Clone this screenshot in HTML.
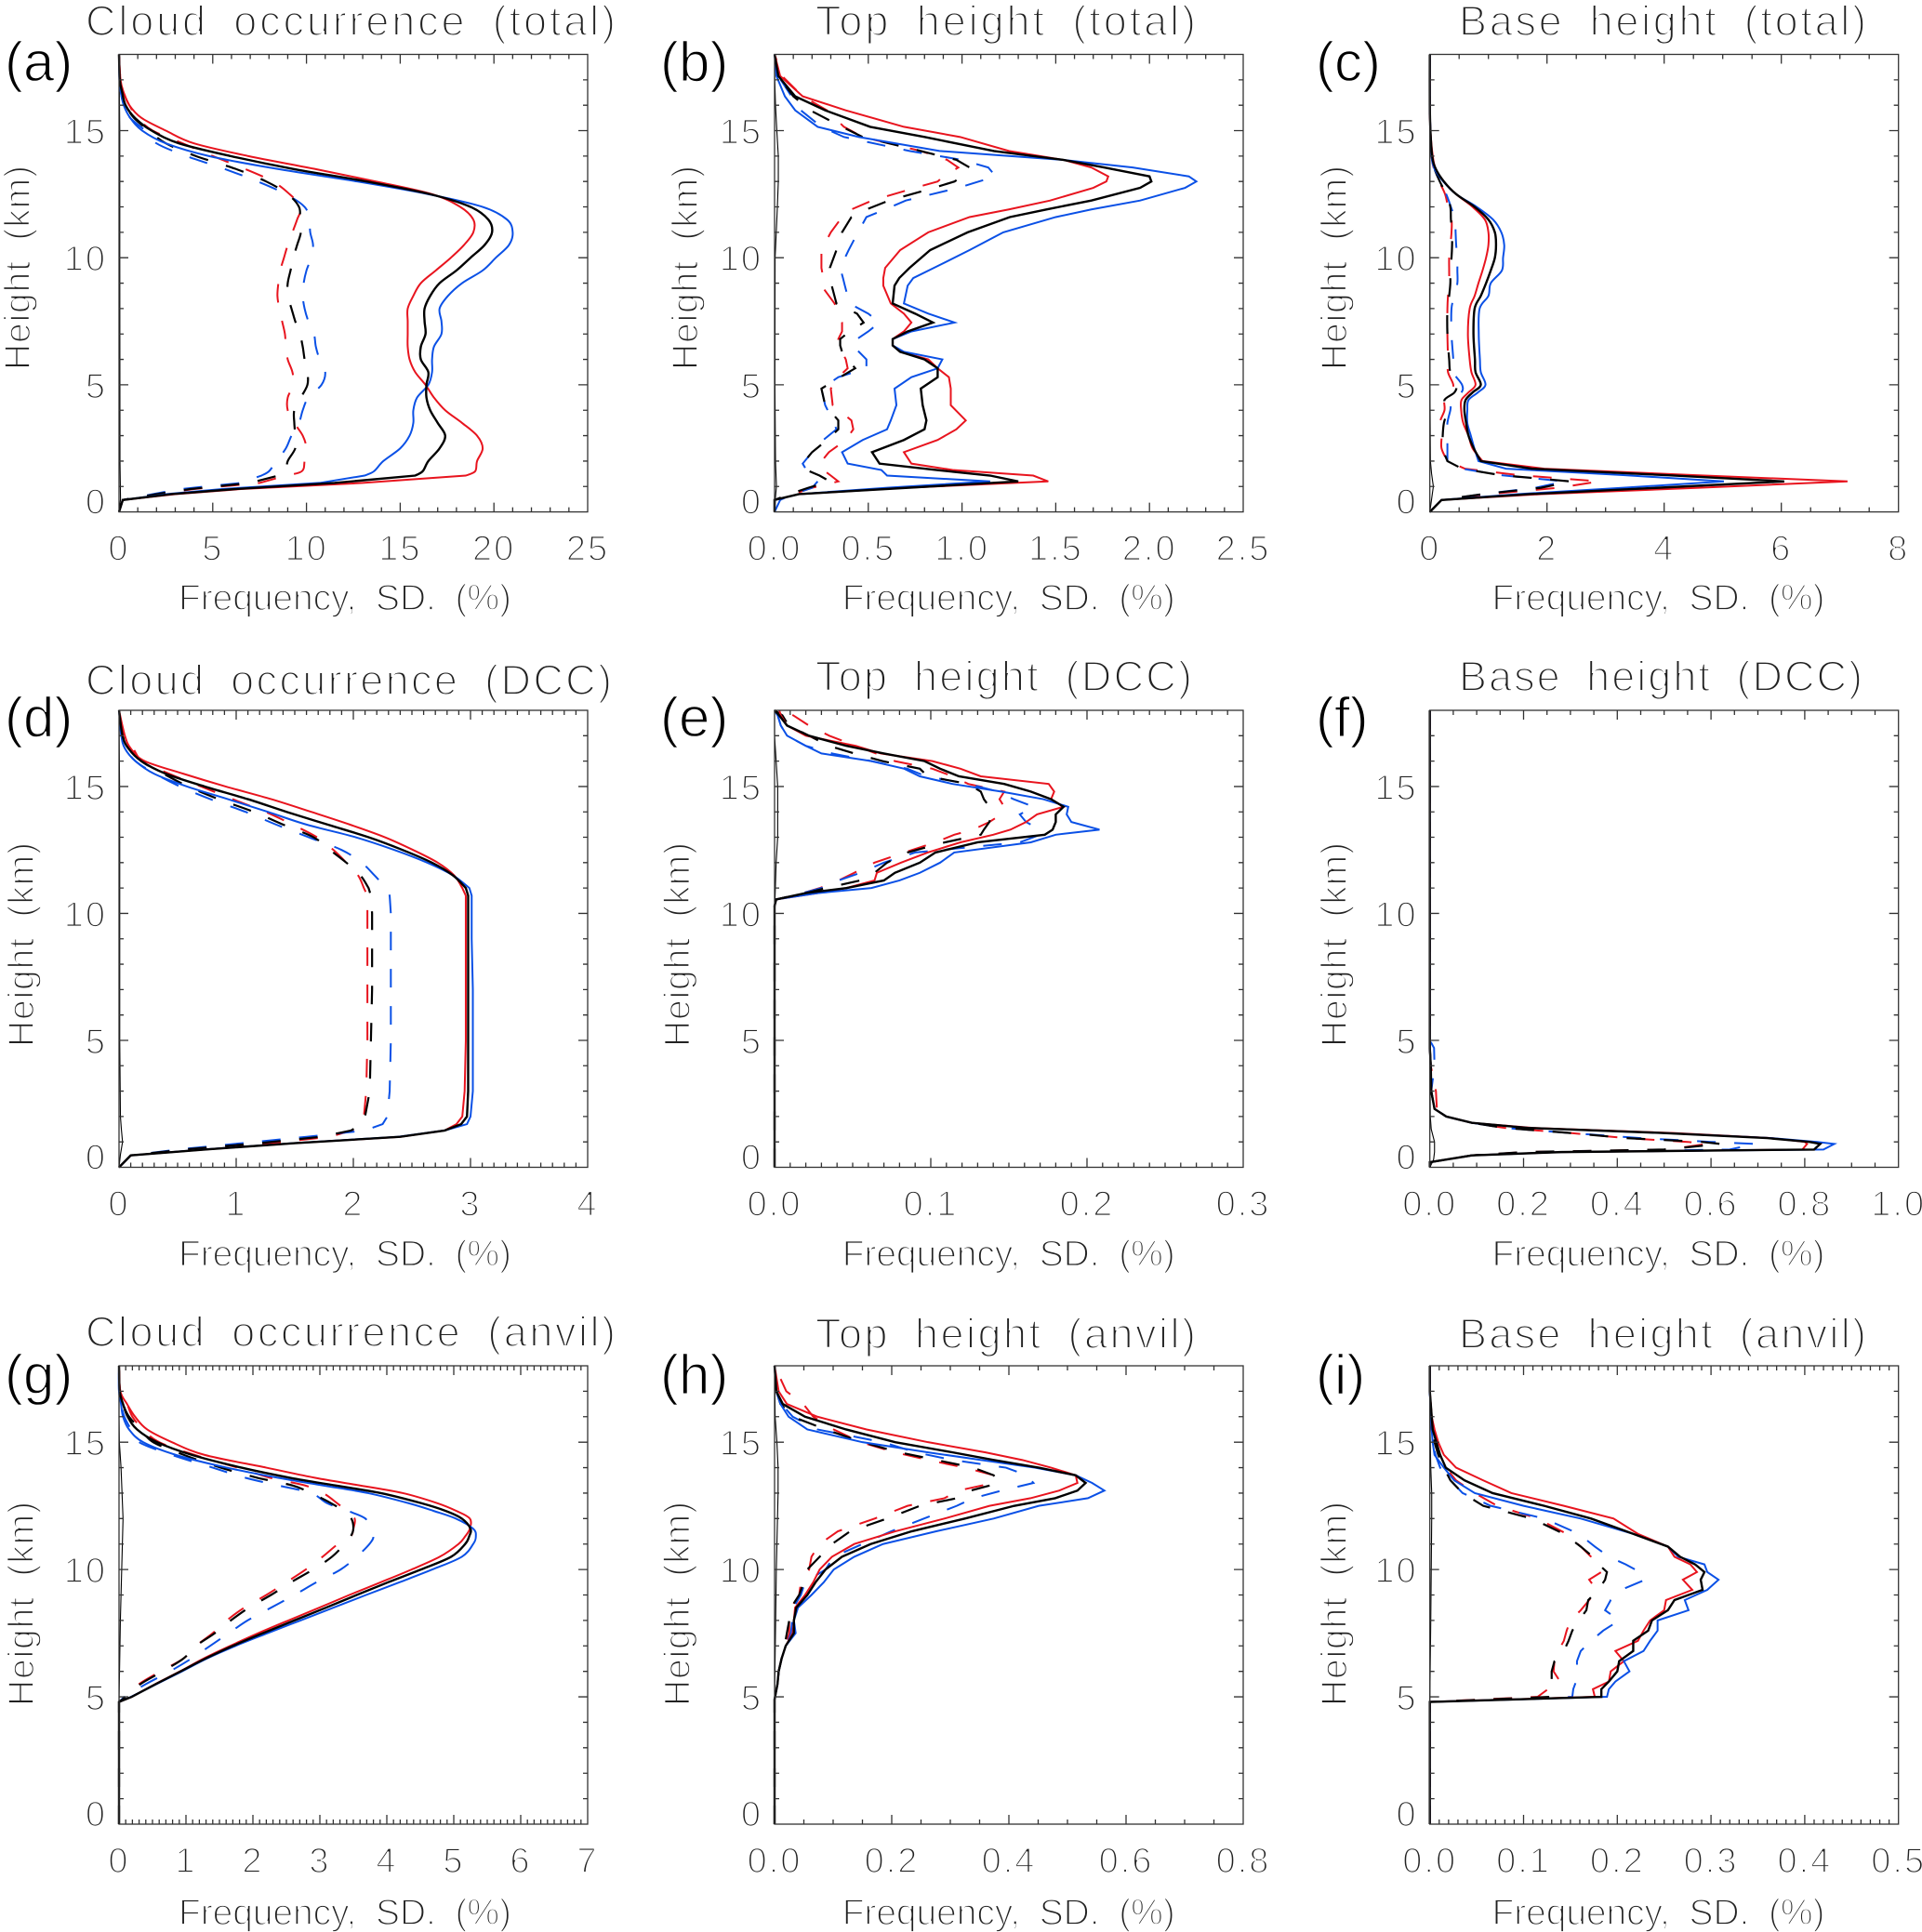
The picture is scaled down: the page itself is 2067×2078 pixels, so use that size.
<!DOCTYPE html>
<html lang="en">
<head>
<meta charset="utf-8">
<title>Cloud occurrence and height profiles</title>
<style>
html,body{margin:0;padding:0;background:#fff;}
svg{display:block;}
text{font-family:"Liberation Sans",sans-serif;stroke:#fff;}
.tick{font-size:38px;letter-spacing:2px;fill:#222;stroke-width:1.8px;}
.title{font-size:45px;word-spacing:12px;fill:#222;stroke-width:2px;}
.axis{font-size:39px;word-spacing:10px;fill:#222;stroke-width:1.7px;}
.letter{font-size:60px;fill:#000;stroke-width:1.4px;}
</style>
</head>
<body>
<svg id="figure" xmlns="http://www.w3.org/2000/svg" width="2067" height="2078" viewBox="0 0 2067 2078"></svg>
<script>
// Panel (a)
const a_heights = [0,.47,.7,.9,1.14,1.43,1.6,2,2.5,3,3.5,4,4.5,5,5.5,6,6.5,7,7.5,8,8.5,9,9.5,10,10.5,11,11.5,12,12.5,13,13.5,14,14.5,15,15.5,16,16.5,17,18];
const a_solidBlue = [0,.2,2.5,5.5,10.7,13.1,13.6,14.1,15,15.5,15.7,15.7,15.9,16.5,16.7,16.7,16.8,17.2,17.2,17.1,17.55,18.3,19.4,20.1,20.8,21,20.7,19.4,16.5,12.7,8.4,4.8,2.5,1.24,.6,.25,.1,.02,0];
const a_solidBlack = [0,.2,2.8,6.2,11.5,15.8,16.2,16.5,17.1,17.4,17,16.6,16.4,16.4,16.5,16.1,16.1,16.35,16.3,16.3,16.6,17.1,18,18.75,19.5,19.9,19.7,18.75,16.6,13.2,9.25,5.95,3.2,1.74,.85,.35,.17,.04,0];
const a_solidRed = [0,.2,3,6.5,13,18.5,19,19.1,19.4,19.1,18.3,17.4,16.8,16.35,15.8,15.5,15.4,15.4,15.4,15.4,15.7,16.1,16.9,17.7,18.4,18.9,18.9,18.2,16.7,13.7,10.4,6.9,4,2.5,1.2,.55,.25,.08,0];
const a_dashBlue = [0,.2,1.8,3.3,6.5,7.6,8,8.4,8.9,9.2,9.6,9.8,10.1,10.8,11,10.7,10.5,10.4,10.1,9.9,9.8,9.85,10,10.25,10.35,10.2,10.15,9.9,8.9,7.4,5.6,3.6,2,1.4,.6,.25,.1,.02,0];
const a_dashBlack = [0,.2,2,3.8,7,8.5,8.9,9,9.4,9.4,9.35,9.35,9.7,10.05,10.05,9.9,9.8,9.65,9.4,9.2,9,9,9.15,9.3,9.5,9.7,9.65,9.6,9,7.85,6.2,4.1,2.5,1.6,.8,.35,.17,.04,0];
const a_dashRed = [0,.2,2,4,7.5,8.9,9.75,9.9,10,9.8,9.35,9,9,9.3,9.25,9,8.9,8.85,8.7,8.55,8.45,8.5,8.6,8.8,9,9.25,9.5,9.7,9.1,8.2,6.7,5,3.4,1.8,1,.55,.25,.08,0];
const a_thinHeights = [0,.5,2,10,15,18];
const a_thinValues = [0,.08,.05,.04,.04,0];
const a_xLabels = ["0","5","10","15","20","25"];

// Panel (b)
const b_heights = [0,.47,.7,.95,1.2,1.43,1.65,1.9,2.35,2.83,3.25,3.6,4.2,4.85,5.3,5.65,6,6.3,6.55,6.8,7.1,7.45,7.8,8.2,8.9,9.2,9.6,10.3,11,11.6,11.9,12.25,12.75,13,13.2,13.55,13.85,14.2,14.75,15.15,15.8,16.35,17.15,18];
const b_solidBlue = [0,0,.13,.6,1.15,.6,.57,.39,.36,.47,.6,.62,.65,.64,.73,.87,.895,.69,.63,.63,.73,.96,.82,.69,.71,.74,.85,1.04,1.22,1.5,1.69,1.95,2.19,2.25,2.21,1.91,1.54,.88,.45,.23,.11,.055,.01,0];
const b_solidBlack = [0,0,.13,.71,1.3,1.15,.86,.56,.52,.69,.8,.81,.79,.78,.87,.87,.8,.67,.63,.63,.71,.845,.75,.63,.64,.665,.72,.83,1.03,1.255,1.45,1.69,1.95,2.01,2,1.76,1.54,1.17,.8,.51,.27,.11,.02,0];
const b_solidRed = [0,0,.13,.7,1.46,1.38,.95,.73,.69,.87,.97,1.02,.94,.94,.93,.87,.82,.67,.63,.63,.69,.73,.69,.62,.58,.58,.59,.67,.82,1.04,1.25,1.47,1.7,1.77,1.78,1.69,1.54,1.25,.99,.69,.38,.15,.03,0];
const b_dashBlue = [0,.03,.1,.2,.23,.2,.17,.15,.2,.26,.33,.31,.27,.25,.34,.49,.49,.45,.41,.44,.5,.56,.5,.4,.375,.365,.35,.395,.445,.49,.59,.7,.98,1.09,1.18,1.14,1,.72,.37,.25,.14,.09,.02,0];
const b_dashBlack = [0,0,.08,.18,.295,.24,.17,.15,.2,.28,.34,.34,.27,.25,.35,.43,.39,.36,.35,.35,.4,.475,.44,.33,.305,.305,.295,.33,.36,.41,.49,.61,.85,.96,1,1.04,.97,.78,.47,.36,.19,.1,.02,0];
const b_dashRed = [0,0,.1,.2,.34,.3,.26,.24,.29,.38,.42,.41,.31,.3,.34,.39,.38,.36,.34,.34,.36,.36,.34,.32,.25,.26,.25,.25,.3,.36,.41,.52,.75,.87,.9,.98,.92,.78,.47,.37,.28,.15,.04,0];
const b_thinHeights = [0,.6,1,2,5,10,12,13,14,15,16,17,18];
const b_thinValues = [0,.005,.01,.005,.002,.003,.015,.02,.02,.012,.005,.001,0];
const b_xLabels = ["0.0","0.5","1.0","1.5","2.0","2.5"];

// Panel (c)
const c_heights = [0,.47,.7,.95,1.2,1.45,1.7,2,2.5,3,3.5,4,4.4,4.7,5,5.5,6,7,8,8.5,9,9.5,10,10.5,11,11.5,12,12.5,13,13.5,14,15,16,18];
const c_solidBlue = [0,.2,1.5,3.3,5.02,3.3,1.3,.83,.76,.7,.64,.64,.66,.82,.95,.87,.855,.835,.85,1,1.04,1.23,1.25,1.27,1.22,1.08,.8,.45,.23,.08,.03,.01,0,0];
const c_solidBlack = [0,.2,1.7,3.9,6.05,4,1.74,.87,.75,.66,.62,.59,.61,.73,.87,.78,.77,.745,.765,.87,.96,1.04,1.11,1.13,1.11,1,.765,.45,.24,.1,.04,.01,0,0];
const c_solidRed = [0,.2,1.9,4.6,7.13,4.5,1.95,.9,.73,.66,.57,.535,.54,.66,.78,.71,.68,.65,.68,.765,.83,.9,.96,1,1,.94,.73,.45,.24,.1,.05,.01,0,0];
const c_dashBlue = [0,.2,.9,1.8,2.3,1.2,.55,.3,.3,.3,.3,.35,.38,.54,.55,.4,.4,.37,.37,.42,.47,.47,.47,.45,.44,.43,.36,.28,.17,.08,.03,.01,0,0];
const c_dashBlack = [0,.2,.9,1.9,2.4,1.2,.55,.3,.22,.22,.24,.3,.25,.42,.45,.35,.33,.3,.3,.33,.35,.35,.37,.38,.38,.36,.35,.28,.17,.08,.03,.01,0,0];
const c_dashRed = [0,.2,1,2.2,2.89,1.5,.6,.3,.2,.2,.17,.25,.25,.35,.4,.31,.31,.3,.3,.31,.33,.33,.33,.35,.37,.37,.31,.26,.16,.07,.03,.01,0,0];
const c_thinHeights = [0,.5,1,1.5,2,5,18];
const c_thinValues = [0,.03,.06,.03,.01,.002,0];
const c_xLabels = ["0","2","4","6","8"];

// Panel (d)
const d_heights = [0,.47,.7,.95,1.2,1.45,1.7,2,3,5,7,9,10,10.7,11,11.5,12,12.5,13,13.5,14,14.5,15,15.5,16,16.5,17,18];
const d_solidBlue = [0,.1,.72,1.48,2.38,2.78,2.97,3,3.02,3.02,3.02,3.01,3.01,3.01,2.99,2.85,2.63,2.35,2.02,1.6,1.27,.93,.58,.3,.14,.05,.02,0];
const d_solidBlack = [0,.1,.73,1.5,2.4,2.78,2.92,2.97,2.98,2.98,2.98,2.98,2.98,2.98,2.96,2.85,2.67,2.42,2.13,1.78,1.43,1.1,.73,.4,.19,.08,.03,0];
const d_solidRed = [0,.1,.73,1.5,2.4,2.78,2.88,2.93,2.95,2.96,2.96,2.96,2.96,2.96,2.93,2.86,2.72,2.51,2.27,1.97,1.64,1.3,.91,.55,.22,.1,.05,0];
const d_dashBlue = [0,.1,.5,1.05,1.6,2.1,2.25,2.29,2.31,2.32,2.32,2.32,2.32,2.31,2.28,2.18,2.07,1.9,1.62,1.34,1.08,.78,.52,.31,.14,.06,.02,0];
const d_dashBlack = [0,.1,.55,1.2,1.72,1.98,2.07,2.1,2.14,2.15,2.16,2.16,2.16,2.15,2.13,2.06,1.94,1.8,1.66,1.4,1.15,.85,.59,.38,.19,.1,.03,0];
const d_dashRed = [0,.1,.6,1.3,1.8,1.99,2.05,2.09,2.11,2.12,2.12,2.12,2.12,2.12,2.09,2.04,1.94,1.83,1.69,1.48,1.25,.97,.7,.43,.2,.12,.04,0];
const d_thinHeights = [0,.5,1,1.5,2,5,12,15,16,18];
const d_thinValues = [0,.012,.03,.02,.012,.006,.006,.005,.003,0];
const d_xLabels = ["0","1","2","3","4"];

// Panel (e)
const e_heights = [0,10.3,10.55,10.8,11,11.3,11.6,12,12.4,12.8,13.1,13.3,13.6,13.9,14.2,14.5,14.8,15.1,15.4,15.7,16,16.3,16.6,17,17.4,17.8,18];
const e_solidBlue = [0,0,.001,.0275,.062,.08,.093,.106,.115,.164,.18,.208,.19,.187,.188,.172,.145,.114,.093,.083,.062,.03,.02,.008,.004,.002,0];
const e_solidBlack = [0,0,.001,.02,.046,.07,.077,.093,.103,.13,.173,.178,.18,.18,.185,.177,.164,.147,.118,.106,.096,.07,.046,.022,.008,.003,0];
const e_solidRed = [0,0,.001,.0275,.046,.064,.0655,.081,.098,.119,.14,.151,.161,.168,.185,.177,.179,.1755,.132,.119,.101,.068,.052,.02,.008,.004,.003];
const e_dashBlue = [0,0,.001,.018,.03,.041,.055,.07,.09,.157,.17,.17,.161,.157,.166,.153,.143,.124,.097,.085,.062,.037,.02,.008,.004,.002,0];
const e_dashBlack = [0,0,.001,.02,.033,.055,.064,.072,.085,.109,.132,.134,.1375,.139,.1375,.134,.132,.124,.098,.093,.069,.051,.035,.022,.009,.005,0];
const e_dashRed = [0,0,.001,.018,.029,.041,.051,.064,.083,.103,.115,.127,.1375,.145,.147,.144,.147,.124,.114,.101,.077,.065,.052,.035,.022,.012,.005];
const e_thinHeights = [0,10,12,13,14,15,16,17,18];
const e_thinValues = [0,0,.001,.002,.002,.002,.001,0,0];
const e_xLabels = ["0.0","0.1","0.2","0.3"];

// Panel (f)
const f_heights = [0,.2,.47,.6,.7,.92,1,1.15,1.35,1.55,1.75,2,2.3,3,4,4.7,5,18];
const f_solidBlue = [0,0,.09,.28,.84,.863,.826,.73,.5,.21,.09,.035,.01,.003,.002,0,0,0];
const f_solidBlack = [0,0,.09,.28,.82,.833,.81,.72,.5,.21,.09,.035,.01,.003,.002,0,0,0];
const f_solidRed = [0,0,.09,.28,.795,.805,.8,.73,.52,.22,.09,.035,.01,.003,.002,0,0,0];
const f_dashBlue = [0,0,.09,.25,.64,.695,.6,.45,.3,.16,.09,.035,.01,.003,.01,.009,0,0];
const f_dashBlack = [0,0,.09,.2,.5,.62,.58,.42,.3,.16,.09,.035,.01,.003,.002,0,0,0];
const f_dashRed = [0,0,.09,.2,.51,.59,.55,.42,.3,.16,.09,.035,.015,.013,.002,0,0,0];
const f_thinHeights = [0,.3,.6,1,1.5,2,5,18];
const f_thinValues = [0,.008,.01,.01,.003,.001,0,0];
const f_xLabels = ["0.0","0.2","0.4","0.6","0.8","1.0"];

// Panel (g)
const g_heights = [0,4.8,5,5.5,6,6.5,7,7.5,8,8.5,9,9.5,10,10.5,11,11.3,11.6,12,12.3,12.6,13,13.3,13.6,14,14.5,15,15.5,16,16.5,17,18];
const g_solidBlue = [0,0,.18,.56,.94,1.31,1.74,2.22,2.71,3.2,3.69,4.19,4.68,5.12,5.29,5.33,5.29,5.03,4.7,4.33,3.72,3.05,2.38,1.61,.85,.36,.15,.06,.03,0,0];
const g_solidBlack = [0,0,.19,.55,.92,1.29,1.7,2.15,2.62,3.09,3.55,4.02,4.51,4.96,5.17,5.23,5.25,5.12,4.88,4.52,3.91,3.23,2.56,1.83,1.09,.57,.27,.13,.06,.01,0];
const g_solidRed = [0,0,.19,.54,.91,1.26,1.66,2.08,2.53,2.99,3.44,3.91,4.37,4.79,5.07,5.17,5.24,5.24,5.04,4.76,4.24,3.6,2.93,2.2,1.28,.79,.42,.24,.12,.02,0];
const g_dashBlue = [0,0,.08,.4,.76,1.08,1.36,1.64,1.92,2.27,2.62,2.95,3.31,3.55,3.74,3.8,3.74,3.68,3.42,3.11,2.87,2.38,1.89,1.4,.79,.3,.18,.08,.03,0,0];
const g_dashBlack = [0,0,.1,.32,.65,.96,1.15,1.43,1.67,1.94,2.27,2.57,2.9,3.18,3.37,3.46,3.5,3.47,3.35,3.17,2.87,2.59,2.07,1.52,.97,.51,.33,.15,.06,.01,0];
const g_dashRed = [0,0,.1,.3,.62,.96,1.15,1.4,1.61,1.87,2.2,2.5,2.79,3.04,3.27,3.46,3.5,3.52,3.4,3.26,3.05,2.78,2.26,1.77,1.13,.6,.36,.2,.12,.02,0];
const g_thinHeights = [0,4.8,8,10,12,14,15,16,18];
const g_thinValues = [0,0,.02,.04,.06,.03,.005,0,0];
const g_xLabels = ["0","1","2","3","4","5","6","7"];

// Panel (h)
const h_heights = [0,4.9,5.5,6,6.5,7,7.5,8,8.5,9,9.5,10,10.5,11,11.5,12,12.5,12.8,13.1,13.4,13.7,14,14.3,14.6,15,15.5,16,16.5,17,18];
const h_solidBlue = [0,0,.005,.007,.012,.019,.036,.033,.04,.063,.084,.101,.136,.185,.276,.374,.451,.535,.563,.542,.514,.444,.353,.262,.15,.056,.024,.01,.003,0];
const h_solidBlack = [0,0,.005,.007,.012,.019,.033,.033,.037,.056,.07,.087,.115,.164,.234,.325,.409,.479,.517,.531,.514,.451,.374,.304,.206,.122,.052,.014,.003,0];
const h_solidRed = [0,0,.005,.007,.012,.019,.031,.033,.035,.052,.066,.077,.098,.136,.206,.29,.367,.437,.486,.517,.514,.472,.423,.36,.262,.157,.073,.021,.007,0];
const h_dashBlue = [0,0,.005,.007,.012,.02,.028,.03,.032,.045,.052,.087,.101,.15,.199,.255,.311,.339,.388,.442,.43,.395,.304,.241,.185,.073,.031,.012,.003,0];
const h_dashBlack = [0,0,.005,.007,.012,.017,.021,.025,.028,.042,.05,.056,.077,.098,.129,.192,.248,.311,.335,.384,.374,.339,.276,.213,.15,.087,.031,.01,.003,0];
const h_dashRed = [0,0,.005,.007,.012,.019,.025,.025,.028,.042,.045,.059,.063,.077,.108,.171,.227,.29,.314,.374,.374,.325,.262,.206,.147,.101,.066,.049,.02,0];
const h_thinHeights = [0,4.9,10,13,14,15,16,18];
const h_thinValues = [0,0,.003,.006,.006,.004,.001,0];
const h_xLabels = ["0.0","0.2","0.4","0.6","0.8"];

// Panel (i)
const i_heights = [0,4.8,5,5.3,5.6,6,6.4,6.8,7.2,7.6,8,8.4,8.8,9.2,9.6,9.9,10.2,10.5,10.9,11.4,12,12.5,13,13.5,14,14.5,15,15.5,16,17,18];
const i_solidBlue = [0,0,.189,.191,.198,.213,.207,.228,.235,.243,.243,.276,.272,.296,.308,.296,.293,.265,.254,.217,.161,.1,.048,.026,.015,.005,.003,.002,.001,0,0];
const i_solidBlack = [0,0,.183,.183,.191,.2,.202,.217,.217,.233,.237,.254,.261,.291,.289,.293,.283,.267,.254,.217,.172,.122,.067,.037,.017,.011,.007,.003,.002,0,0];
const i_solidRed = [0,0,.176,.174,.191,.193,.207,.198,.222,.228,.235,.25,.252,.28,.27,.285,.278,.261,.254,.222,.196,.143,.087,.057,.028,.015,.009,.005,.002,0,0];
const i_dashBlue = [0,0,.152,.153,.156,.157,.157,.161,.172,.185,.202,.187,.193,.204,.23,.224,.209,.191,.176,.159,.122,.065,.035,.022,.011,.006,.003,.002,.001,0,0];
const i_dashBlack = [0,0,.128,.128,.13,.13,.133,.143,.148,.152,.159,.167,.169,.18,.187,.189,.18,.174,.161,.143,.109,.057,.035,.022,.015,.009,.005,.003,.001,0,0];
const i_dashRed = [0,0,.115,.126,.139,.132,.133,.137,.143,.146,.15,.161,.17,.178,.17,.183,.178,.172,.161,.146,.115,.072,.048,.028,.017,.011,.006,.004,.002,0,0];
const i_thinHeights = [0,4.8,8,12,13,14,16,18];
const i_thinValues = [0,0,.001,.002,.002,.001,0,0];
const i_xLabels = ["0.0","0.1","0.2","0.3","0.4","0.5"];

const yLabels = ["0","5","10","15"];
const heightMax = 18;

const NS = "http://www.w3.org/2000/svg";
const svg = document.getElementById("figure");
const BLUE = "#0a50e6", RED = "#e8141e", BLACK = "#000";

function el(parent, tag, attrs) {
  const node = document.createElementNS(NS, tag);
  for (const k in attrs) node.setAttribute(k, attrs[k]);
  parent.appendChild(node);
  return node;
}

function addText(parent, str, x, y, cls, name, extra) {
  const t = el(parent, "text", Object.assign({x: x, y: y, "class": cls}, extra || {}));
  t.textContent = str;
  
  
  return t;
}

function drawPanel(p) {
  const g = el(svg, "g", {});
  
  

  const W = p.x1 - p.x0, H = p.y1 - p.y0;
  const xMax = parseFloat(p.xLabels[p.xLabels.length - 1]);
  const sx = v => p.x0 + (v / xMax) * W;
  const sy = h => p.y1 - (h / heightMax) * H;

  function pathFor(values, heights, smoothFrom) {
    const pts = values.map((v, n) => [sx(v), sy(heights[n])]);
    let d = "M" + pts[0][0].toFixed(2) + " " + pts[0][1].toFixed(2);
    for (let n = 1; n < pts.length; n++) {
      const s = n - 1;
      if (smoothFrom >= 0 && s >= smoothFrom) {
        const a = pts[s === smoothFrom ? s : s - 1], b = pts[s], c = pts[n], e = pts[Math.min(n + 1, pts.length - 1)];
        const c1x = b[0] + (c[0] - a[0]) / 6, c1y = b[1] + (c[1] - a[1]) / 6;
        const c2x = c[0] - (e[0] - b[0]) / 6, c2y = c[1] - (e[1] - b[1]) / 6;
        d += "C" + c1x.toFixed(2) + " " + c1y.toFixed(2) + " " + c2x.toFixed(2) + " " + c2y.toFixed(2) + " " + c[0].toFixed(2) + " " + c[1].toFixed(2);
      } else {
        d += "L" + pts[n][0].toFixed(2) + " " + pts[n][1].toFixed(2);
      }
    }
    return d;
  }

  function line(values, heights, color, width, dash, name, smoothFrom) {
    const path = el(g, "path", {d: pathFor(values, heights, smoothFrom), fill: "none", stroke: color, "stroke-width": width, "stroke-linejoin": "miter"});
    if (dash) path.setAttribute("stroke-dasharray", dash);
    
    
    return path;
  }

  const sm = p.smoothFrom === undefined ? -1 : p.smoothFrom;
  line(p.thinV, p.thinH, BLACK, 1.1, null, 'thin-sd-line', -1);
  line(p.dashRed, p.h, RED, 2, "20 20", 'dashed-red-series', sm);
  line(p.dashBlue, p.h, BLUE, 2, "20 20", 'dashed-blue-series', sm);
  line(p.dashBlack, p.h, BLACK, 2.2, "20 20", 'dashed-black-series', sm);
  line(p.solidRed, p.h, RED, 2, null, 'solid-red-series', sm);
  line(p.solidBlue, p.h, BLUE, 2, null, 'solid-blue-series', sm);
  line(p.solidBlack, p.h, BLACK, 2.4, null, 'solid-black-series', sm);

  const axis = el(g, "g", {stroke: "#333", "stroke-width": 1.3, fill: "none"});
  
  
  el(axis, "rect", {x: p.x0, y: p.y0, width: W, height: H});

  const majors = p.xLabels.length - 1;
  const totalX = majors * p.xDiv;
  let dx = "";
  for (let n = 1; n < totalX; n++) {
    const len = n % p.xDiv === 0 ? 10 : 5;
    const xx = (p.x0 + W * n / totalX).toFixed(2);
    dx += "M" + xx + " " + p.y1 + "v-" + len + "M" + xx + " " + p.y0 + "v" + len;
  }
  for (let n = 1; n < heightMax; n++) {
    const len = n % 5 === 0 ? 10 : 5;
    const yy = sy(n).toFixed(2);
    dx += "M" + p.x0 + " " + yy + "h" + len + "M" + p.x1 + " " + yy + "h-" + len;
  }
  el(axis, "path", {d: dx});

  p.xLabels.forEach(lbl => {
    addText(g, lbl, sx(parseFloat(lbl)), p.y1 + 52, "tick", 'x-tick-label', {"text-anchor": "middle"});
  });
  yLabels.forEach(lbl => {
    const v = parseFloat(lbl);
    const yy = sy(v) + 14 - (v === 0 ? 12 : 0);
    addText(g, lbl, p.x0 - 13, yy, "tick", 'y-tick-label', {"text-anchor": "end"});
  });

  addText(g, p.title, p.titleX0, p.titleY, "title", 'panel-title', {textLength: p.titleX1 - p.titleX0, lengthAdjust: "spacing"});
  addText(g, "Frequency, SD. (%)", p.x0 + p.xtOffset, p.y1 + p.xtDrop, "axis", 'x-axis-title', {textLength: 358, lengthAdjust: "spacing"});
  const yt = addText(g, "Height (km)", p.ytX, p.ytBottom, "axis", 'y-axis-title', {textLength: 220, lengthAdjust: "spacing"});
  yt.setAttribute("transform", "rotate(-90 " + p.ytX + " " + p.ytBottom + ")");
  addText(g, "(" + p.id + ")", p.letterX, p.letterY, "letter", 'panel-letter');
}

const colX = [[128, 632], [833, 1337], [1537.7, 2041.7]];
const rowY = [[58.5, 550.6], [764, 1255.5], [1469, 1962]];

function layout(col, row) {
  return {x0: colX[col][0], x1: colX[col][1], y0: rowY[row][0], y1: rowY[row][1],
          xtOffset: [64, 72.7, 66.8][col], xtDrop: [105.4, 106, 108][row],
          letterX: [5, 710, 1415][col], letterY: [87, 792, 1499][row]};
}

drawPanel(Object.assign(layout(0,0), {id:"a", smoothFrom:5, title:"Cloud occurrence (total)", titleX0:92, titleX1:662, titleY:38, ytX:32, ytBottom:398, xDiv:5, xLabels:a_xLabels, h:a_heights, solidBlue:a_solidBlue, solidBlack:a_solidBlack, solidRed:a_solidRed, dashBlue:a_dashBlue, dashBlack:a_dashBlack, dashRed:a_dashRed, thinH:a_thinHeights, thinV:a_thinValues}));
drawPanel(Object.assign(layout(1,0), {id:"b", title:"Top height (total)", titleX0:877, titleX1:1286, titleY:38, ytX:750, ytBottom:398, xDiv:5, xLabels:b_xLabels, h:b_heights, solidBlue:b_solidBlue, solidBlack:b_solidBlack, solidRed:b_solidRed, dashBlue:b_dashBlue, dashBlack:b_dashBlack, dashRed:b_dashRed, thinH:b_thinHeights, thinV:b_thinValues}));
drawPanel(Object.assign(layout(2,0), {id:"c", smoothFrom:7, title:"Base height (total)", titleX0:1569, titleX1:2007, titleY:38, ytX:1448, ytBottom:398, xDiv:4, xLabels:c_xLabels, h:c_heights, solidBlue:c_solidBlue, solidBlack:c_solidBlack, solidRed:c_solidRed, dashBlue:c_dashBlue, dashBlack:c_dashBlack, dashRed:c_dashRed, thinH:c_thinHeights, thinV:c_thinValues}));
drawPanel(Object.assign(layout(0,1), {id:"d", smoothFrom:14, title:"Cloud occurrence (DCC)", titleX0:92, titleX1:658, titleY:747, ytX:36, ytBottom:1126, xDiv:10, xLabels:d_xLabels, h:d_heights, solidBlue:d_solidBlue, solidBlack:d_solidBlack, solidRed:d_solidRed, dashBlue:d_dashBlue, dashBlack:d_dashBlack, dashRed:d_dashRed, thinH:d_thinHeights, thinV:d_thinValues}));
drawPanel(Object.assign(layout(1,1), {id:"e", title:"Top height (DCC)", titleX0:877, titleX1:1282, titleY:743, ytX:741.5, ytBottom:1126, xDiv:10, xLabels:e_xLabels, h:e_heights, solidBlue:e_solidBlue, solidBlack:e_solidBlack, solidRed:e_solidRed, dashBlue:e_dashBlue, dashBlack:e_dashBlack, dashRed:e_dashRed, thinH:e_thinHeights, thinV:e_thinValues}));
drawPanel(Object.assign(layout(2,1), {id:"f", title:"Base height (DCC)", titleX0:1569, titleX1:2003, titleY:743, ytX:1448, ytBottom:1126, xDiv:4, xLabels:f_xLabels, h:f_heights, solidBlue:f_solidBlue, solidBlack:f_solidBlack, solidRed:f_solidRed, dashBlue:f_dashBlue, dashBlack:f_dashBlack, dashRed:f_dashRed, thinH:f_thinHeights, thinV:f_thinValues}));
drawPanel(Object.assign(layout(0,2), {id:"g", smoothFrom:2, title:"Cloud occurrence (anvil)", titleX0:92, titleX1:662, titleY:1448, ytX:36, ytBottom:1835, xDiv:10, xLabels:g_xLabels, h:g_heights, solidBlue:g_solidBlue, solidBlack:g_solidBlack, solidRed:g_solidRed, dashBlue:g_dashBlue, dashBlack:g_dashBlack, dashRed:g_dashRed, thinH:g_thinHeights, thinV:g_thinValues}));
drawPanel(Object.assign(layout(1,2), {id:"h", title:"Top height (anvil)", titleX0:877, titleX1:1286, titleY:1450, ytX:741.5, ytBottom:1835, xDiv:4, xLabels:h_xLabels, h:h_heights, solidBlue:h_solidBlue, solidBlack:h_solidBlack, solidRed:h_solidRed, dashBlue:h_dashBlue, dashBlack:h_dashBlack, dashRed:h_dashRed, thinH:h_thinHeights, thinV:h_thinValues}));
drawPanel(Object.assign(layout(2,2), {id:"i", title:"Base height (anvil)", titleX0:1569, titleX1:2007, titleY:1450, ytX:1448, ytBottom:1835, xDiv:10, xLabels:i_xLabels, h:i_heights, solidBlue:i_solidBlue, solidBlack:i_solidBlack, solidRed:i_solidRed, dashBlue:i_dashBlue, dashBlack:i_dashBlack, dashRed:i_dashRed, thinH:i_thinHeights, thinV:i_thinValues}));
</script>
</body>
</html>
